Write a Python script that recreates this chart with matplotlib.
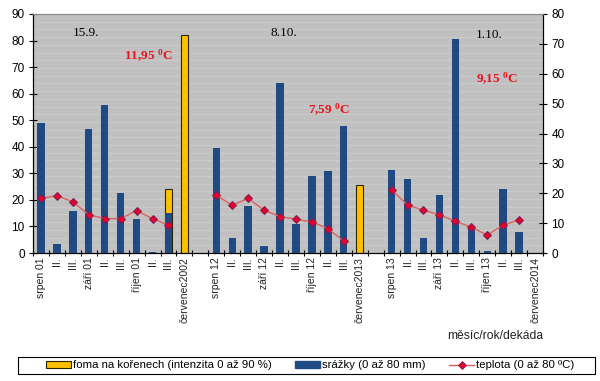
import numpy as np
import matplotlib
matplotlib.use("Agg")
import matplotlib.pyplot as plt
from matplotlib.patches import Rectangle, Patch
from matplotlib.lines import Line2D

plt.rcParams['font.family'] = ['Liberation Sans', 'DejaVu Sans']
plt.rcParams['mathtext.fontset'] = 'custom'
plt.rcParams['mathtext.rm'] = 'Liberation Serif'
plt.rcParams['mathtext.bf'] = 'Liberation Serif:bold'

nan = np.nan
categories = ["srpen 01", "II.", "III.", "září 01", "II.", "III.", "říjen 01", "II.", "III.", "červenec2002", "",
              "srpen 12", "II.", "III.", "září 12", "II.", "III.", "říjen 12", "II.", "III.", "červenec2013", "",
              "srpen 13", "II.", "III.", "září 13", "II.", "III.", "říjen 13", "II.", "III.", "červenec2014"]

foma = [nan, nan, nan, nan, nan, nan, nan, nan, 24.0, 82.0, nan,
        nan, nan, nan, nan, nan, nan, nan, nan, nan, 25.5, nan,
        nan, nan, nan, nan, nan, nan, nan, nan, nan, nan]

srazky = [43.6, 3.1, 13.9, 41.4, 49.4, 20.2, 11.4, 0.4, 13.5, nan, nan,
          35.3, 5.0, 15.6, 2.2, 57.0, 9.7, 25.8, 27.3, 42.6, nan, nan,
          27.9, 24.8, 4.9, 19.3, 71.5, 8.1, 0.8, 21.5, 7.1, nan]

teplota = [18.3, 19.2, 17.1, 12.8, 11.5, 11.5, 14.2, 11.5, 9.3, nan, nan,
           19.3, 16.0, 18.3, 14.3, 12.2, 11.3, 10.4, 8.2, 4.0, nan, nan,
           21.1, 16.1, 14.3, 12.8, 10.6, 8.7, 6.0, 9.4, 11.0, nan]

left_ticks = list(range(0, 91, 10))
right_ticks = list(range(0, 81, 10))

annotations = [("15.9.", 86, 33, 'black', 'normal'),
               (r"11,95 $\mathbf{^{0}}$C", 148, 56, '#e8141e', 'bold'),
               ("8.10.", 284, 33, 'black', 'normal'),
               (r"7,59 $\mathbf{^{0}}$C", 329, 110, '#e8141e', 'bold'),
               ("1.10.", 489, 35, 'black', 'normal'),
               (r"9,15 $\mathbf{^{0}}$C", 497, 79, '#e8141e', 'bold')]

W, H = 600, 381
fig = plt.figure(figsize=(6.0, 3.81), dpi=100)
L, R, T, B = 33, 543, 14, 253
ax = fig.add_axes([L / W, 1 - B / H, (R - L) / W, (B - T) / H])
ax2 = ax.twinx()

x = np.arange(len(categories))
ax.set_facecolor('#c0c0c0')
# background texture stripes
for yv in np.linspace(0, 90, 32)[1:-1]:
    ax.axhline(yv, color='#c9c9c9', lw=0.9, zorder=0)

ax.bar(x, foma, width=0.46, color='#ffc000', edgecolor='#2b2400', linewidth=0.8, zorder=2)
ax2.bar(x, srazky, width=0.46, color='#1f4a82', linewidth=0, zorder=2)
ax2.plot(x, teplota, color='#e06060', lw=1.0, marker='D', markersize=4.5,
         markerfacecolor='#e8002a', markeredgecolor='#7a1f55', markeredgewidth=0.7, zorder=3)

ax.set_xlim(-0.5, len(categories) - 0.5)
ax.set_ylim(0, 90)
ax2.set_ylim(0, 80)
ax.set_yticks(left_ticks)
ax2.set_yticks(right_ticks)
ax.set_xticks(x)
ax.set_xticklabels(categories, rotation=90, fontsize=7.5, color='#222222')
ax.tick_params(axis='x', length=0, pad=3)
ax.set_xticks(np.arange(-0.5, len(categories), 1.0), minor=True)
ax.tick_params(axis='x', which='minor', length=5, direction='inout', width=0.8)
ax.tick_params(axis='y', labelsize=8.5, length=6, direction='inout', width=0.8, pad=3)
ax2.tick_params(axis='y', labelsize=8.5, length=6, direction='inout', width=0.8, pad=3)

for a in (ax, ax2):
    a.spines['top'].set_color('#8c8c8c')
    a.spines['left'].set_color('black')
    a.spines['right'].set_color('black')
    a.spines['bottom'].set_color('black')
    for s in a.spines.values():
        s.set_linewidth(0.8)

for txt, px, py, col, wt in annotations:
    fig.text(px / W, 1 - py / H, txt, ha='center', va='center', color=col,
             fontsize=9.5, fontweight=wt, family='Liberation Serif')

fig.text(495 / W, 1 - 336 / H, "měsíc/rok/dekáda", ha='center', va='center', fontsize=8.7, color='#222222')

# legend frame
fig.patches.append(Rectangle((18 / W, 1 - 374 / H), (595 - 18) / W, 17 / H, transform=fig.transFigure,
                             facecolor='white', edgecolor='black', linewidth=0.8, zorder=1))
handles = [Patch(facecolor='#ffc000', edgecolor='#2b2400', linewidth=0.8),
           Patch(facecolor='#1f4a82', edgecolor='#1f4a82'),
           Line2D([], [], color='#e06060', lw=1.0, marker='D', markersize=4,
                  markerfacecolor='#e8002a', markeredgecolor='#7a1f55', markeredgewidth=0.6)]
labels = ["foma na kořenech (intenzita 0 až 90 %)", "srážky (0 až 80 mm)", "teplota (0 až 80 ºC)"]
leg = fig.legend(handles, labels, ncol=3, mode='expand', frameon=False, fontsize=8.2,
                 bbox_to_anchor=(46 / W, 1 - 374 / H, (574 - 46) / W, 17 / H), loc='center',
                 handlelength=2.2, handleheight=0.65, handletextpad=0.15, borderpad=0.0,
                 borderaxespad=0.0, columnspacing=1.0)
leg.set_zorder(2)

fig.savefig('out.png', dpi=100)
